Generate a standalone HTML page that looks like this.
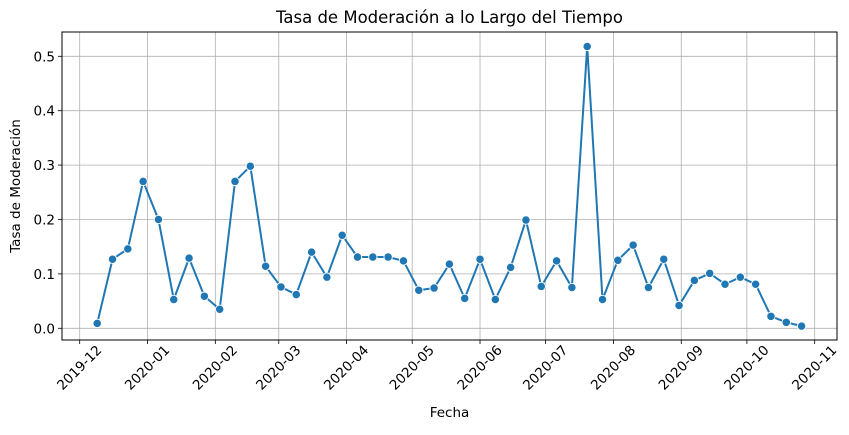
<!DOCTYPE html>
<html><head><meta charset="utf-8"><style>
body{margin:0;background:#fff;}
svg text{font-family:"DejaVu Sans","Liberation Sans",sans-serif;fill:#000;}
</style></head><body>
<svg id="chart" width="849" height="430" viewBox="0 0 849 430" xmlns="http://www.w3.org/2000/svg">
<rect width="849" height="430" fill="#fff"/>
<g id="grid"></g>
<g id="xticks"></g>
<g id="yticks"></g>
<g id="series"></g>
<rect x="62" y="32" width="775" height="308" fill="none" stroke="#000" stroke-width="1"/>
<text x="449.5" y="23" text-anchor="middle" font-size="16.5">Tasa de Moderación a lo Largo del Tiempo</text>
<text x="449.5" y="417" text-anchor="middle" font-size="13.5">Fecha</text>
<text transform="translate(20,186) rotate(-90)" text-anchor="middle" font-size="13.5">Tasa de Moderación</text>
</svg>
<script>
const startDate = "2019-12-09";
const values = [0.009,0.127,0.146,0.270,0.200,0.053,0.129,0.059,0.035,0.270,0.298,0.114,0.076,0.062,0.140,0.094,
0.171,0.131,0.131,0.131,0.124,0.070,0.074,0.118,0.055,0.127,0.053,0.112,0.199,0.077,0.124,0.075,0.518,
0.053,0.125,0.153,0.075,0.127,0.042,0.088,0.101,0.081,0.094,0.081,0.022,0.011,0.004];
const xTickLabels = ["2019-12","2020-01","2020-02","2020-03","2020-04","2020-05","2020-06","2020-07","2020-08","2020-09","2020-10","2020-11"];
const yTickValues = [0.0,0.1,0.2,0.3,0.4,0.5];

const NS="http://www.w3.org/2000/svg";
const L=62,R=837,T=32,B=340;
const origin=Date.UTC(2019,11,1);
const DAY=86400000;
function xScale(ms){return 79.7+(ms-origin)/DAY*2.1875;}
function yScale(v){return 328.3-v*544;}
function mk(tag,attrs,parent){const e=document.createElementNS(NS,tag);for(const k in attrs)e.setAttribute(k,attrs[k]);parent.appendChild(e);return e;}
const grid=document.getElementById('grid'),xt=document.getElementById('xticks'),yt=document.getElementById('yticks'),ser=document.getElementById('series');

xTickLabels.forEach(lbl=>{
  const [y,m]=lbl.split('-').map(Number);
  const x=xScale(Date.UTC(y,m-1,1));
  const g=mk('line',{x1:x,x2:x,y1:T,y2:B,stroke:'#b0b0b0','stroke-width':0.8},grid);
  
  
  const t=mk('line',{x1:x,x2:x,y1:B,y2:B+4,stroke:'#000','stroke-width':0.8},xt);
  
  
  const tx=mk('text',{x:x,y:372,'text-anchor':'middle','font-size':'13.5',transform:`rotate(-45 ${x} 368)`},xt);
  tx.textContent=lbl;
  
  
});
yTickValues.forEach(v=>{
  const y=yScale(v);
  const g=mk('line',{x1:L,x2:R,y1:y,y2:y,stroke:'#b0b0b0','stroke-width':0.8},grid);
  
  
  const t=mk('line',{x1:L-4,x2:L,y1:y,y2:y,stroke:'#000','stroke-width':0.8},yt);
  
  
  const tx=mk('text',{x:L-7,y:y+5,'text-anchor':'end','font-size':'13.5'},yt);
  tx.textContent=v.toFixed(1);
  
  
});
const [sy,sm,sd]=startDate.split('-').map(Number);
const s0=Date.UTC(sy,sm-1,sd);
const pts=values.map((v,i)=>[xScale(s0+i*7*DAY),yScale(v)]);
const line=mk('polyline',{points:pts.map(p=>p.join(',')).join(' '),fill:'none',stroke:'#1f77b4','stroke-width':2,'stroke-linejoin':'round'},ser);


pts.forEach(p=>{
  const c=mk('circle',{cx:p[0],cy:p[1],r:4.2,fill:'#1f77b4',stroke:'#fff','stroke-width':0.9},ser);
  
  
});
</script>
</body></html>
